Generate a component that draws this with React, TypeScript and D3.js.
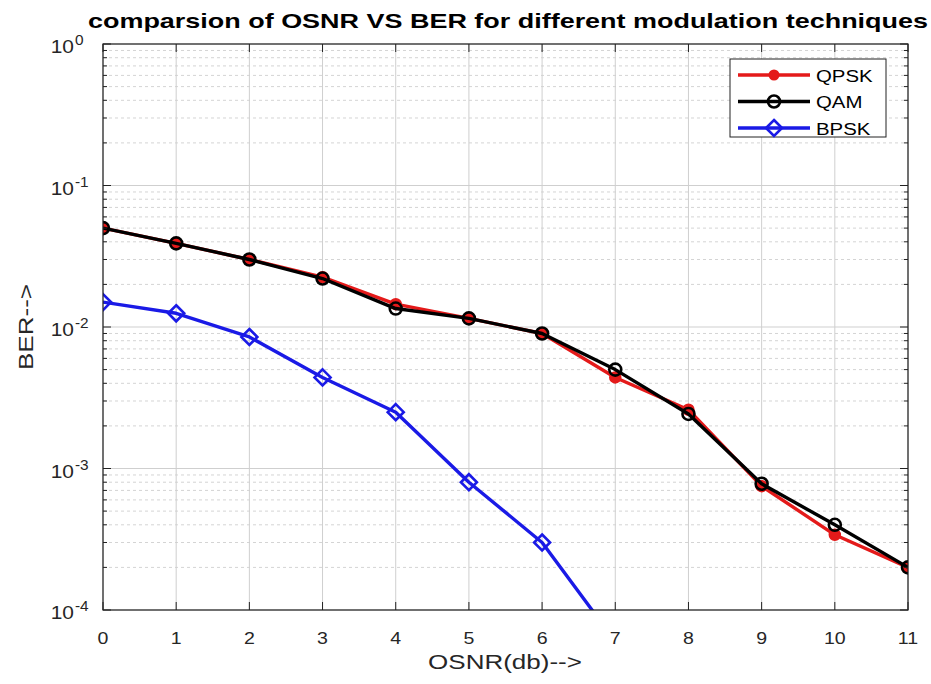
import React from "react";
import * as d3 from "d3";

const osnr = [0, 1, 2, 3, 4, 5, 6, 7, 8, 9, 10, 11];
const qpsk = [0.05, 0.039, 0.03, 0.0225, 0.0145, 0.0115, 0.009, 0.0044, 0.0026, 0.00075, 0.00034, 0.0002];
const qam = [0.05, 0.039, 0.03, 0.022, 0.0135, 0.0115, 0.009, 0.005, 0.00243, 0.00078, 0.0004, 0.0002];
const bpskX = [0, 1, 2, 3, 4, 5, 6, 7];
const bpsk = [0.015, 0.0125, 0.0085, 0.0044, 0.0025, 0.0008, 0.0003, 0.00006];
const xTicks = [0, 1, 2, 3, 4, 5, 6, 7, 8, 9, 10, 11];
const yExps = [0, -1, -2, -3, -4];

const W = 931;
const H = 684;
const m = { left: 103, right: 908, top: 44, bottom: 610 };
const font = "Liberation Sans, Arial, Helvetica, sans-serif";

// text is a bit stretched sideways in the original picture
function T({ x, y, sx = 1.25, size, anchor = "start", weight = "normal", fill = "#262626", rotate = 0, children }: any) {
  return (
    <text
      transform={`translate(${x},${y}) rotate(${rotate}) scale(${sx},1)`}
      textAnchor={anchor}
      fontFamily={font}
      fontSize={size}
      fontWeight={weight}
      fill={fill}
    >
      {children}
    </text>
  );
}

export default function App() {
  const x = d3.scaleLinear().domain([0, 11]).range([m.left, m.right]);
  const y = d3.scaleLog().domain([1e-4, 1]).range([m.bottom, m.top]);

  const line = d3
    .line<[number, number]>()
    .x((d) => x(d[0]))
    .y((d) => y(d[1]));

  const minor: number[] = [];
  for (let e = -4; e < 0; e++) {
    for (let k = 2; k <= 9; k++) minor.push(k * Math.pow(10, e));
  }

  const qpskPts = osnr.map((o, i) => [o, qpsk[i]] as [number, number]);
  const qamPts = osnr.map((o, i) => [o, qam[i]] as [number, number]);
  const bpskPts = bpskX.map((o, i) => [o, bpsk[i]] as [number, number]);

  const diamond = (cx: number, cy: number, s: number) =>
    `M${cx},${cy - s}L${cx + s},${cy}L${cx},${cy + s}L${cx - s},${cy}Z`;

  const legend = [
    { name: "QPSK", color: "#e41a1a", kind: "dot" },
    { name: "QAM", color: "#000000", kind: "circle" },
    { name: "BPSK", color: "#1a1ae6", kind: "diamond" },
  ];

  return (
    <svg width={W} height={H} style={{ position: "absolute", left: 0, top: 0, background: "#fff" }}>
      <defs>
        <clipPath id="plot">
          <rect x={m.left} y={m.top} width={m.right - m.left} height={m.bottom - m.top} />
        </clipPath>
      </defs>
      <rect x={0} y={0} width={W} height={H} fill="#fff" />

      {/* grid */}
      {minor.map((v, i) => (
        <line key={"mn" + i} x1={m.left} x2={m.right} y1={y(v)} y2={y(v)} stroke="#d4d4d4" strokeWidth={1} strokeDasharray="3,3" />
      ))}
      {yExps.map((e) => (
        <line key={"mj" + e} x1={m.left} x2={m.right} y1={y(Math.pow(10, e))} y2={y(Math.pow(10, e))} stroke="#cfcfcf" strokeWidth={1} />
      ))}
      {xTicks.map((t) => (
        <line key={"gx" + t} x1={x(t)} x2={x(t)} y1={m.top} y2={m.bottom} stroke="#cfcfcf" strokeWidth={1} />
      ))}

      {/* series */}
      <g clipPath="url(#plot)">
        <path d={line(qpskPts) || ""} fill="none" stroke="#e41a1a" strokeWidth={3.4} strokeLinejoin="round" />
        {qpskPts.map((p, i) => (
          <circle key={"q" + i} cx={x(p[0])} cy={y(p[1])} r={5.5} fill="#e41a1a" stroke="#e41a1a" strokeWidth={1.5} />
        ))}
        <path d={line(qamPts) || ""} fill="none" stroke="#000" strokeWidth={3.4} strokeLinejoin="round" />
        {qamPts.map((p, i) => (
          <circle key={"a" + i} cx={x(p[0])} cy={y(p[1])} r={6} fill="none" stroke="#000" strokeWidth={2.6} />
        ))}
        <path d={line(bpskPts) || ""} fill="none" stroke="#1a1ae6" strokeWidth={3.4} strokeLinejoin="round" />
        {bpskPts.map((p, i) => (
          <path key={"b" + i} d={diamond(x(p[0]), y(p[1]), 8)} fill="none" stroke="#1a1ae6" strokeWidth={2.6} />
        ))}
      </g>

      {/* axes box and ticks */}
      <rect x={m.left} y={m.top} width={m.right - m.left} height={m.bottom - m.top} fill="none" stroke="#222" strokeWidth={1.2} />
      {xTicks.map((t) => (
        <g key={"tx" + t}>
          <line x1={x(t)} x2={x(t)} y1={m.bottom} y2={m.bottom - 8} stroke="#222" />
          <line x1={x(t)} x2={x(t)} y1={m.top} y2={m.top + 8} stroke="#222" />
          <T x={x(t)} y={644} size={17} sx={1.15} anchor="middle">
            {t}
          </T>
        </g>
      ))}
      {yExps.map((e) => (
        <g key={"ty" + e}>
          <line x1={m.left} x2={m.left + 8} y1={y(Math.pow(10, e))} y2={y(Math.pow(10, e))} stroke="#222" />
          <line x1={m.right} x2={m.right - 8} y1={y(Math.pow(10, e))} y2={y(Math.pow(10, e))} stroke="#222" />
          <T x={74} y={y(Math.pow(10, e)) + 9} size={19} sx={1.1} anchor="end">
            10
          </T>
          <T x={75} y={y(Math.pow(10, e)) + 1} size={14} sx={1.1}>
            {e === 0 ? "0" : "-" + Math.abs(e)}
          </T>
        </g>
      ))}
      {minor.map((v, i) => (
        <g key={"mt" + i}>
          <line x1={m.left} x2={m.left + 4} y1={y(v)} y2={y(v)} stroke="#222" />
          <line x1={m.right} x2={m.right - 4} y1={y(v)} y2={y(v)} stroke="#222" />
        </g>
      ))}

      {/* labels */}
      <text
        x={88}
        y={28}
        textLength={840}
        lengthAdjust="spacingAndGlyphs"
        fontFamily={font}
        fontWeight="bold"
        fontSize={21}
        fill="#000"
      >
        comparsion of OSNR VS BER for different modulation techniques
      </text>
      <T x={505} y={669} size={20} sx={1.3} anchor="middle">
        OSNR(db)--&gt;
      </T>
      <T x={33} y={(m.top + m.bottom) / 2} size={20} sx={1.3} anchor="middle" rotate={-90}>
        BER--&gt;
      </T>

      {/* legend */}
      <rect x={730} y={59} width={156} height={78} fill="#fff" stroke="#222" strokeWidth={1} />
      {legend.map((l, i) => {
        const ly = 75 + i * 26.5;
        return (
          <g key={l.name}>
            <line x1={738} x2={810} y1={ly} y2={ly} stroke={l.color} strokeWidth={3.4} />
            {l.kind === "dot" && <circle cx={774} cy={ly} r={5.5} fill={l.color} />}
            {l.kind === "circle" && <circle cx={774} cy={ly} r={6} fill="none" stroke={l.color} strokeWidth={2.6} />}
            {l.kind === "diamond" && <path d={diamond(774, ly, 8)} fill="none" stroke={l.color} strokeWidth={2.6} />}
            <T x={816} y={ly + 6.5} size={17} sx={1.2} fill="#000">
              {l.name}
            </T>
          </g>
        );
      })}
    </svg>
  );
}
